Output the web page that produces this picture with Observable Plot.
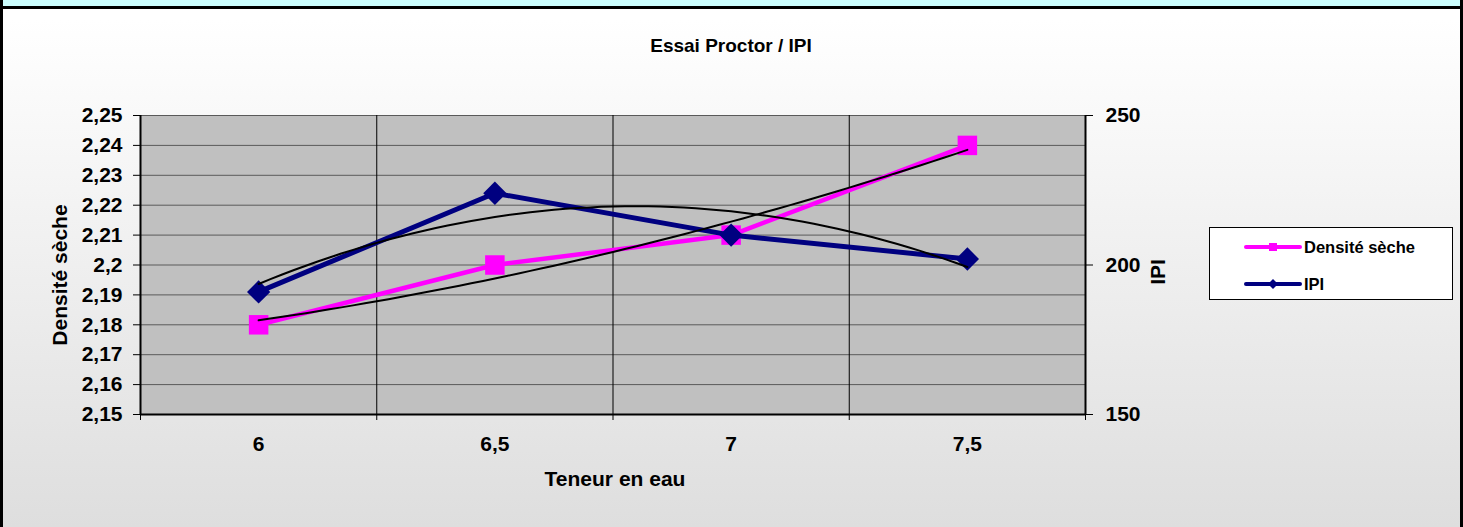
<!DOCTYPE html>
<html>
<head>
<meta charset="utf-8">
<script src="https://cdn.jsdelivr.net/npm/d3@7"></script>
<script src="https://cdn.jsdelivr.net/npm/@observablehq/plot@0.6"></script>
<style>
  html, body { margin: 0; padding: 0; background: #fff; }
  #wrap { position: relative; width: 1463px; height: 527px; overflow: hidden;
          background: linear-gradient(to bottom, #ffffff 0px, #ffffff 20px, #dedede 527px);
          font-family: "Liberation Sans", Arial, sans-serif; font-weight: bold; color: #000; }
  #wrap svg { position: absolute; left: 0; top: 0; }
  .abs { position: absolute; white-space: nowrap; }
  .c { transform: translate(-50%, -50%); }
  .rot { transform: translate(-50%, -50%) rotate(-90deg); }
</style>
</head>
<body>
<div id="wrap"></div>
<script>
// ---- data ----
const teneur = [6, 6.5, 7, 7.5];
const densite = [2.18, 2.20, 2.21, 2.24];
const ipi = [191, 224, 210, 202];
const densiteTicks = [2.15, 2.16, 2.17, 2.18, 2.19, 2.20, 2.21, 2.22, 2.23, 2.24, 2.25];
const ipiTicks = [150, 200, 250];
const categoryEdges = [5.75, 6.25, 6.75, 7.25, 7.75];

// ---- helpers ----
const fmt = d => String(+(+d).toFixed(2)).replace(".", ",");
// IPI lives on the secondary axis 150..250, mapped onto the primary 2.15..2.25
const ipiToY = v => 2.15 + (v - 150) / 1000;
const yToIpi = y => Math.round((y - 2.15) * 1000 + 150);

// least-squares polynomial (order 2) trendline, as in the spreadsheet
function quadFit(xs, ys) {
  const n = xs.length;
  let s = [0,0,0,0,0], t = [0,0,0];
  for (let i = 0; i < n; i++) {
    const x = xs[i], y = ys[i];
    for (let k = 0; k < 5; k++) s[k] += Math.pow(x, k);
    for (let k = 0; k < 3; k++) t[k] += Math.pow(x, k) * y;
  }
  const A = [[s[0], s[1], s[2], t[0]], [s[1], s[2], s[3], t[1]], [s[2], s[3], s[4], t[2]]];
  for (let i = 0; i < 3; i++) {
    for (let j = i + 1; j < 3; j++) {
      const f = A[j][i] / A[i][i];
      for (let k = i; k < 4; k++) A[j][k] -= f * A[i][k];
    }
  }
  const c = [0,0,0];
  for (let i = 2; i >= 0; i--) {
    let v = A[i][3];
    for (let k = i + 1; k < 3; k++) v -= A[i][k] * c[k];
    c[i] = v / A[i][i];
  }
  return x => c[0] + c[1] * x + c[2] * x * x;
}
const fD = quadFit(teneur, densite);
const fI = quadFit(teneur, ipi);
const xs = d3.range(0, 61).map(i => teneur[0] + (teneur[teneur.length - 1] - teneur[0]) * i / 60);
const trendD = xs.map(x => ({x, y: fD(x)}));
const trendI = xs.map(x => ({x, y: ipiToY(fI(x))}));

const densRows = teneur.map((x, i) => ({x, y: densite[i]}));
const ipiRows = teneur.map((x, i) => ({x, y: ipiToY(ipi[i])}));

const PINK = "#ff00ff", NAVY = "#000080";

const chart = Plot.plot({
  width: 1463, height: 527,
  marginLeft: 140, marginRight: 378, marginTop: 115, marginBottom: 113,
  style: { background: "transparent", fontFamily: "'Liberation Sans', Arial, sans-serif",
           fontSize: "21px", fontWeight: "bold", color: "#000", overflow: "visible" },
  x: { domain: [5.75, 7.75] },
  y: { domain: [2.15, 2.25] },
  marks: [
    Plot.frame({ fill: "#c0c0c0", stroke: "#808080" }),
    Plot.ruleY(densiteTicks, { stroke: "#5a5a5a", strokeWidth: 1 }),
    Plot.ruleX(categoryEdges.slice(1, -1), { stroke: "#000", strokeWidth: 1 }),
    Plot.ruleX([5.75], { stroke: "#000", strokeWidth: 2 }),
    Plot.ruleX([7.75], { stroke: "#000", strokeWidth: 2 }),
    Plot.ruleY([2.15], { stroke: "#000", strokeWidth: 2 }),
    Plot.axisY(densiteTicks, { anchor: "left", tickSize: 7, tickPadding: 11, tickFormat: fmt, label: null, stroke: "#000" }),
    Plot.axisY(ipiTicks.map(ipiToY), { anchor: "right", tickSize: 7, tickPadding: 13, tickFormat: d => String(yToIpi(d)), label: null }),
    Plot.axisX(categoryEdges, { anchor: "bottom", tickSize: 6, tickFormat: () => "", label: null }),
    Plot.axisX(teneur, { anchor: "bottom", tickSize: 0, tickPadding: 22, tickFormat: fmt, label: null }),
    Plot.line(densRows, { x: "x", y: "y", stroke: PINK, strokeWidth: 4.5 }),
    Plot.dot(densRows, { x: "x", y: "y", symbol: "square", r: 11, fill: PINK, stroke: "none" }),
    Plot.line(ipiRows, { x: "x", y: "y", stroke: NAVY, strokeWidth: 5 }),
    Plot.dot(ipiRows, { x: "x", y: "y", symbol: "diamond2", r: 10.5, fill: NAVY, stroke: "none" }),
    Plot.line(trendD, { x: "x", y: "y", stroke: "#000", strokeWidth: 2, curve: "linear" }),
    Plot.line(trendI, { x: "x", y: "y", stroke: "#000", strokeWidth: 2, curve: "linear" })
  ]
});

const wrap = document.getElementById("wrap");
wrap.appendChild(chart);

function addDiv(html, css, cls) {
  const d = document.createElement("div");
  d.className = "abs " + (cls || "");
  d.innerHTML = html;
  Object.assign(d.style, css);
  wrap.appendChild(d);
  return d;
}
// frame decorations
addDiv("", { left: "0px", top: "0px", width: "1463px", height: "6px", background: "#ccffff" });
addDiv("", { left: "0px", top: "6px", width: "1463px", height: "3px", background: "#000" });
addDiv("", { left: "0px", top: "0px", width: "3px", height: "527px", background: "#000" });
addDiv("", { left: "1460px", top: "0px", width: "3px", height: "527px", background: "#000" });

// titles
addDiv("Essai Proctor / IPI", { left: "731px", top: "46px", fontSize: "19px" }, "c");
addDiv("Teneur en eau", { left: "615px", top: "479px", fontSize: "21px" }, "c");
addDiv("Densité sèche", { left: "60px", top: "275px", fontSize: "21px" }, "rot");
addDiv("IPI", { left: "1158px", top: "272px", fontSize: "21px" }, "rot");

// legend
const legend = addDiv("", { left: "1209px", top: "227px", width: "244px", height: "73px",
  background: "#fff", border: "1px solid #000", boxSizing: "border-box" });
const items = [
  { name: "Densité sèche", color: PINK, sym: "square", cy: 19 },
  { name: "IPI", color: NAVY, sym: "diamond", cy: 56 }
];
items.forEach(it => {
  const s = `<svg width="60" height="16" style="position:absolute;left:33px;top:${it.cy - 8}px">
    <line x1="3" y1="8" x2="57" y2="8" stroke="${it.color}" stroke-width="4" stroke-linecap="round"/>
    ${it.sym === "square"
      ? `<rect x="26" y="4" width="8" height="8" fill="${it.color}"/>`
      : `<path d="M30,3 L35,8 L30,13 L25,8 Z" fill="${it.color}"/>`}
  </svg>`;
  const row = document.createElement("div");
  row.innerHTML = s;
  legend.appendChild(row);
  const t = document.createElement("div");
  t.textContent = it.name;
  Object.assign(t.style, { position: "absolute", left: "94px", top: (it.cy - 10) + "px",
    fontSize: "16.5px", lineHeight: "20px", whiteSpace: "nowrap" });
  legend.appendChild(t);
});
</script>
</body>
</html>
